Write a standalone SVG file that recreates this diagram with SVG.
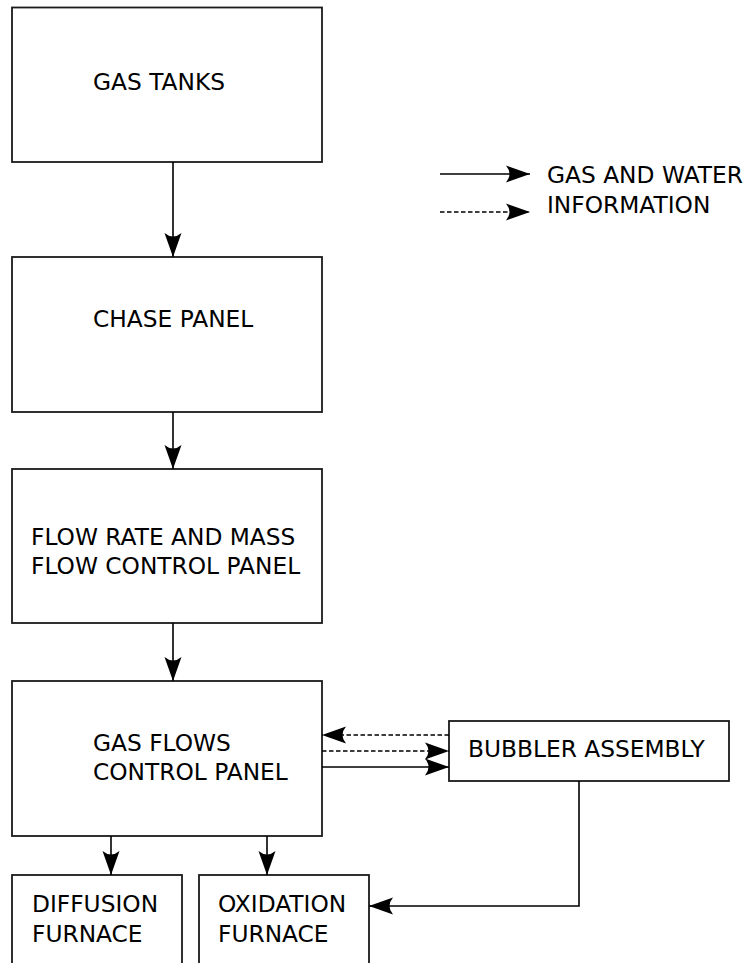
<svg xmlns="http://www.w3.org/2000/svg" width="745" height="963" viewBox="0 0 745 963">
<style>
.box{fill:#fff;stroke:#1a1a1a;stroke-width:1.8}
.t{font-family:"DejaVu Sans",sans-serif;font-size:23.3px;fill:#000}
.ln{fill:none;stroke:#000;stroke-width:1.6}
.dash{stroke-dasharray:4.5,2.5}
</style>
<defs>
<marker id="ah" markerUnits="userSpaceOnUse" markerWidth="28" markerHeight="20" viewBox="-26 -10 28 20" refX="0" refY="0" orient="auto">
<path d="M0,0 L-24,-8.5 Q-17,0 -24,8.5 Z" fill="#000"/>
</marker>
</defs>
<rect width="745" height="963" fill="#fff"/>
<g id="gas-tanks"><rect class="box" x="12" y="7.5" width="310" height="154.5"/><text class="t" x="93" y="90">GAS TANKS</text></g>
<g id="chase-panel"><rect class="box" x="12" y="257" width="310" height="155"/><text class="t" x="93" y="327">CHASE PANEL</text></g>
<g id="flow-rate"><rect class="box" x="12" y="469" width="310" height="154"/><text class="t" x="31" y="545">FLOW RATE AND MASS</text><text class="t" x="31" y="574">FLOW CONTROL PANEL</text></g>
<g id="gas-flows"><rect class="box" x="12" y="681" width="310" height="155"/><text class="t" x="93" y="751">GAS FLOWS</text><text class="t" x="93" y="780">CONTROL PANEL</text></g>
<g id="bubbler"><rect class="box" x="449" y="721" width="280" height="60"/><text class="t" x="468" y="757">BUBBLER ASSEMBLY</text></g>
<g id="diffusion"><rect class="box" x="12" y="875" width="170" height="100"/><text class="t" x="32" y="912">DIFFUSION</text><text class="t" x="32" y="942">FURNACE</text></g>
<g id="oxidation"><rect class="box" x="199" y="875" width="170" height="100"/><text class="t" x="218" y="912">OXIDATION</text><text class="t" x="218" y="942">FURNACE</text></g>
<g id="connectors">
<line class="ln" x1="173" y1="162" x2="173" y2="257" marker-end="url(#ah)"/>
<line class="ln" x1="173" y1="412" x2="173" y2="469" marker-end="url(#ah)"/>
<line class="ln" x1="173" y1="623" x2="173" y2="681" marker-end="url(#ah)"/>
<line class="ln" x1="111" y1="836" x2="111" y2="875" marker-end="url(#ah)"/>
<line class="ln" x1="267" y1="836" x2="267" y2="875" marker-end="url(#ah)"/>
<line class="ln dash" x1="449" y1="735" x2="322" y2="735" marker-end="url(#ah)"/>
<line class="ln dash" x1="322" y1="751" x2="449" y2="751" marker-end="url(#ah)"/>
<line class="ln" x1="322" y1="767" x2="449" y2="767" marker-end="url(#ah)"/>
<polyline class="ln" points="579,781 579,906 369,906" marker-end="url(#ah)"/>
</g>
<g id="legend">
<line class="ln" x1="440" y1="174" x2="530" y2="174" marker-end="url(#ah)"/>
<line class="ln dash" x1="440" y1="212" x2="530" y2="212" marker-end="url(#ah)"/>
<text class="t" x="547" y="183">GAS AND WATER</text>
<text class="t" x="547" y="213">INFORMATION</text>
</g>
</svg>
